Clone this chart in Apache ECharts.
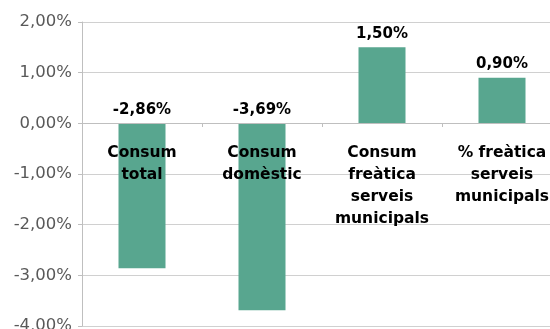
<!DOCTYPE html>
<html>
<head>
<meta charset="utf-8">
<script src="https://cdn.jsdelivr.net/npm/echarts@6/dist/echarts.min.js"></script>
<style>
  html, body { margin: 0; padding: 0; background: #fff; }
  #main { width: 550px; height: 329px; }
</style>
</head>
<body>
<div id="main"></div>
<script>
var categories = ['Consum\ntotal', 'Consum\ndomèstic', 'Consum\nfreàtica\nserveis\nmunicipals', '% freàtica\nserveis\nmunicipals'];
var values = [-2.86, -3.69, 1.50, 0.90];

function pct(v) {
    return v.toFixed(2).replace('.', ',') + '%';
}

var myChart = echarts.init(document.getElementById('main'));

// eix de categories a l'alçada del zero (offset des de baix)
myChart.setOption({
    animation: false,
    grid: { left: 82, top: 22, width: 480, height: 304, containLabel: false, outerBoundsMode: 'none' },
    xAxis: {
        type: 'category',
        data: categories,
        position: 'bottom',
        offset: -203,
        z: 10,
        axisLine: { onZero: false, lineStyle: { color: '#bfbfbf', width: 1 } },
        axisTick: { show: true, length: 4, lineStyle: { color: '#bfbfbf' } },
        splitLine: { show: false },
        axisLabel: {
            interval: 0,
            margin: 19,
            color: '#000',
            fontFamily: 'DejaVu Sans',
            fontWeight: 'bold',
            fontSize: 15.5,
            lineHeight: 22
        }
    },
    yAxis: {
        type: 'value',
        min: -4,
        max: 2,
        interval: 1,
        axisLine: { show: true, lineStyle: { color: '#bfbfbf' } },
        axisTick: { show: true, length: 4, inside: false, lineStyle: { color: '#bfbfbf' } },
        splitLine: { lineStyle: { color: '#d0d0d0', width: 1 } },
        axisLabel: {
            margin: 10,
            color: '#595959',
            fontFamily: 'DejaVu Sans',
            fontSize: 16.5,
            formatter: function (v) { return pct(v); }
        }
    },
    series: [{
        type: 'bar',
        data: values,
        barWidth: 47,
        itemStyle: { color: '#58a68f' },
        label: {
            show: true,
            position: 'top',
            distance: 6,
            color: '#000',
            fontFamily: 'DejaVu Sans',
            fontWeight: 'bold',
            fontSize: 15,
            formatter: function (p) { return pct(p.value); }
        }
    }]
});
</script>
</body>
</html>
